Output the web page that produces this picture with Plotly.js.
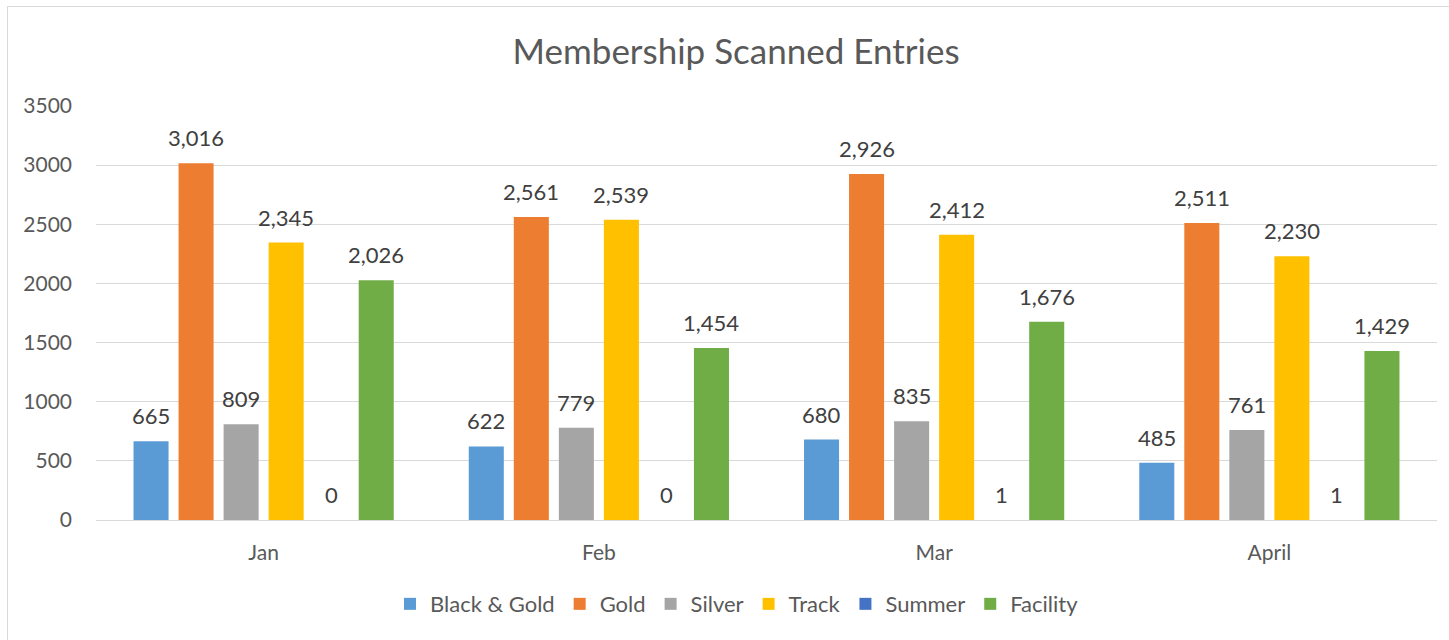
<!DOCTYPE html>
<html>
<head>
<meta charset="utf-8">
<script src="https://cdn.plot.ly/plotly-3.0.1.min.js"></script>
<style>
html,body{margin:0;padding:0;background:#fff;}
#chart{width:1449px;height:640px;position:absolute;left:0;top:0;}
#frame{position:absolute;left:7px;top:6px;width:1460px;height:660px;border:1px solid #d9d9d9;pointer-events:none;}
</style>
</head>
<body>
<div id="chart"></div>
<div id="frame"></div>
<script>
const months = ["Jan", "Feb", "Mar", "April"];
const seriesNames = ["Black & Gold", "Gold", "Silver", "Track", "Summer", "Facility"];
const blackGold = [665, 622, 680, 485];
const gold = [3016, 2561, 2926, 2511];
const silver = [809, 779, 835, 761];
const track = [2345, 2539, 2412, 2230];
const summer = [0, 0, 1, 1];
const facility = [2026, 1454, 1676, 1429];
const colors = ["#5B9BD5", "#ED7D31", "#A5A5A5", "#FFC000", "#4472C4", "#70AD47"];
const yTicks = [0, 500, 1000, 1500, 2000, 2500, 3000, 3500];

const allValues = [blackGold, gold, silver, track, summer, facility];
const font = "Lato, 'Liberation Sans', Arial, sans-serif";

const W = 1449, H = 640;
const margin = {l: 96, r: 12, t: 106, b: 120};
const bargap = 0.194, bargroupgap = 0.222;
const catWidth = (W - margin.l - margin.r) / months.length;
const slot = catWidth * (1 - bargap) / allValues.length;

const traces = allValues.map((vals, i) => ({
  type: "bar",
  name: seriesNames[i],
  x: months,
  y: vals,
  marker: {color: colors[i]},
  hoverinfo: "skip"
}));

const annotations = [];
allValues.forEach((vals, i) => {
  vals.forEach((v, j) => {
    annotations.push({
      x: months[j], y: v, xref: "x", yref: "y",
      xshift: (i - (allValues.length - 1) / 2) * slot,
      yshift: 10,
      yanchor: "bottom", xanchor: "center",
      text: v.toLocaleString("en-US"),
      showarrow: false,
      font: {family: font, size: 22, color: "#404040"}
    });
  });
});

const layout = {
  width: W, height: H,
  margin: margin,
  paper_bgcolor: "#ffffff",
  plot_bgcolor: "#ffffff",
  barmode: "group",
  bargap: bargap,
  bargroupgap: bargroupgap,
  title: {text: "Membership Scanned Entries", x: 0.508, xanchor: "center", y: 0.919, yanchor: "middle",
          font: {family: font, size: 35, color: "#595959"}},
  xaxis: {type: "category", showgrid: false, zeroline: false, showline: false, ticks: "",
          tickfont: {family: font, size: 21, color: "#595959"}, ticklabelstandoff: 18},
  yaxis: {range: [0, 3500], tickvals: yTicks, ticktext: yTicks.map(String), showgrid: true,
          gridcolor: "#d9d9d9", gridwidth: 1, zeroline: true, zerolinecolor: "#d9d9d9", showline: false,
          tickfont: {family: font, size: 21, color: "#595959"}, ticklabelstandoff: 23},
  legend: {orientation: "h", x: 0.478, xanchor: "center", y: -0.203, yanchor: "middle",
           font: {family: font, size: 22, color: "#595959"}, itemwidth: 30, traceorder: "normal"},
  annotations: annotations,
  showlegend: true
};

Plotly.newPlot("chart", traces, layout, {displayModeBar: false, staticPlot: true});
</script>
</body>
</html>
